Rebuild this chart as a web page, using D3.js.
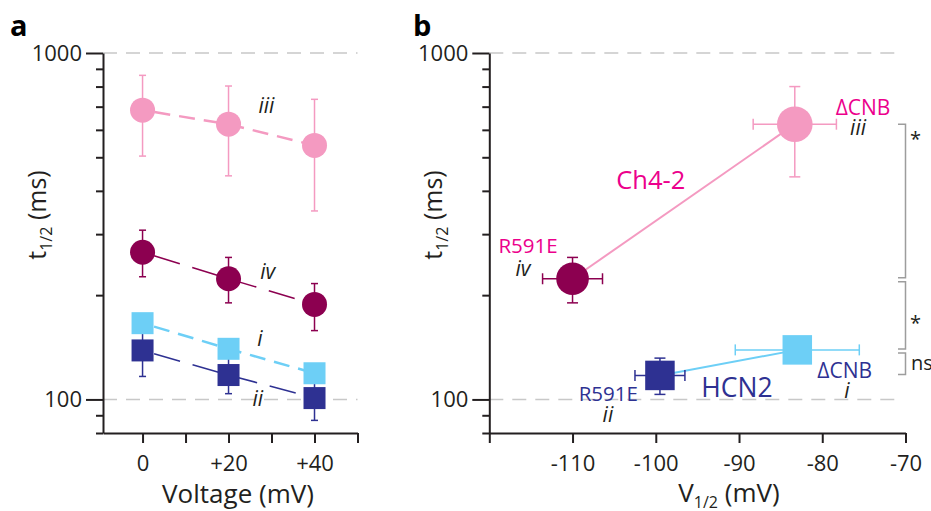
<!DOCTYPE html>
<html>
<head>
<meta charset="utf-8">
<script src="https://cdn.jsdelivr.net/npm/d3@7"></script>
<style>
  body { margin: 0; background: #fff; }
  svg { font-family: "Open Sans", sans-serif; }
</style>
</head>
<body>
<svg id="chart" width="931" height="511"></svg>
<script>
// ---- panel a: t1/2 against test voltage
const voltages = [0, 20, 40];
const iiiT  = [684, 623, 541];
const iiiLo = [504, 442, 350];
const iiiHi = [862, 803, 735];
const ivT  = [266, 223, 188];
const ivLo = [226, 190, 158];
const ivHi = [308, 257, 216];
const iT  = [166, 140, 119];
const iLo = [157, 133, 113];
const iHi = [175, 147, 125];
const iiT  = [138.5, 117.6, 100.9];
const iiLo = [116.5, 103.9, 87];
const iiHi = [158, 133, 113];

// ---- panel b: t1/2 against V1/2
const bNames = ["iv", "iii", "ii", "i"];
const bV    = [-110, -83.3, -99.5, -83.0];
const bVErr = [3.6, 5.0, 3.0, 7.45];
const bT    = [223, 623, 117.3, 139];
const bTLo  = [190, 439, 103.4, 132];
const bTHi  = [257, 800, 131.6, 146];
const bLinks = [["iv", "iii"], ["ii", "i"]];
const brackets = [["iii", "iv", "*"], ["iv", "i", "*"], ["i", "ii", "ns"]];

// ---- ticks
const tTicks = [80, 90, 100, 200, 300, 400, 500, 600, 700, 800, 900, 1000];
const tLabelled = [100, 1000];
const vTicksA = [0, 10, 20, 30, 40, 50];
const vLabelsA = { 0: "0", 20: "+20", 40: "+40" };
const vTicksB = [-120, -110, -100, -90, -80, -70];
const vLabelsB = [-110, -100, -90, -80, -70];

const ink = "#231f20";
const magenta = "#ec008c";
const col = { iii: "#f49ac1", iv: "#8c0050", i: "#6dcff6", ii: "#2e3192" };

const svg = d3.select("#chart");

const yA = d3.scaleLog().domain([80, 1000]).range([433, 53]);
const xA = d3.scaleLinear().domain([-9.2, 50]).range([103, 357.5]);
const yB = d3.scaleLog().domain([80, 1000]).range([433, 53]);
const xB = d3.scaleLinear().domain([-120, -70]).range([489.3, 905.5]);

function grid(y, x0, x1) {
  svg.append("g").selectAll("line")
    .data(tLabelled)
    .join("line")
      .attr("x1", x0).attr("x2", x1)
      .attr("y1", d => y(d)).attr("y2", d => y(d))
      .attr("stroke", "#c8c8c8")
      .attr("stroke-width", 1.5)
      .attr("stroke-dasharray", "14,9");
}

function yAxis(y, x0) {
  const ax = svg.append("g")
    .attr("transform", `translate(${x0},0)`)
    .call(d3.axisLeft(y).tickValues(tTicks).tickSize(17).tickSizeOuter(0).tickPadding(4)
      .tickFormat(d => tLabelled.includes(d) ? d : ""));
  ax.selectAll(".tick line").attr("x2", d => tLabelled.includes(d) ? -17 : -7);
  return ax;
}

function xAxis(x, ticks, fmt, y0) {
  return svg.append("g")
    .attr("transform", `translate(0,${y0})`)
    .call(d3.axisBottom(x).tickValues(ticks).tickSize(10).tickSizeOuter(0).tickPadding(12)
      .tickFormat(fmt));
}

function styleAxis(ax) {
  ax.attr("font-family", null).attr("font-size", 22);
  ax.select(".domain").attr("stroke", ink).attr("stroke-width", 2);
  ax.selectAll(".tick line").attr("stroke", ink).attr("stroke-width", 2);
  ax.selectAll(".tick text").attr("fill", ink);
}

function tLabel(x, y) {
  const t = svg.append("text")
    .attr("transform", `translate(${x},${y}) rotate(-90)`)
    .attr("text-anchor", "middle")
    .attr("font-size", 25)
    .attr("fill", ink);
  t.append("tspan").text("t");
  t.append("tspan").attr("font-size", 16).attr("dy", 6).text("1/2");
  t.append("tspan").attr("dy", -6).text(" (ms)");
}

function errBar(g, x1, y1, x2, y2, cap, color, vertical) {
  g.append("line").attr("x1", x1).attr("y1", y1).attr("x2", x2).attr("y2", y2)
    .attr("stroke", color).attr("stroke-width", 1.5);
  [[x1, y1], [x2, y2]].forEach(([cx, cy]) => {
    g.append("line")
      .attr("x1", vertical ? cx - cap : cx).attr("x2", vertical ? cx + cap : cx)
      .attr("y1", vertical ? cy : cy - cap).attr("y2", vertical ? cy : cy + cap)
      .attr("stroke", color).attr("stroke-width", 1.5);
  });
}

function marker(g, shape, cx, cy, size, color) {
  if (shape === "circle") {
    g.append("circle").attr("cx", cx).attr("cy", cy).attr("r", size).attr("fill", color);
  } else {
    g.append("rect").attr("x", cx - size / 2).attr("y", cy - size / 2)
      .attr("width", size).attr("height", size).attr("fill", color);
  }
}

// ================= panel a =================
grid(yA, 103, 357.5);

const seriesA = [
  { key: "iii", t: iiiT, lo: iiiLo, hi: iiiHi },
  { key: "iv",  t: ivT,  lo: ivLo,  hi: ivHi },
  { key: "i",   t: iT,   lo: iLo,   hi: iHi },
  { key: "ii",  t: iiT,  lo: iiLo,  hi: iiHi }
];
const styleA = {
  iii: { shape: "circle", size: 12.5, width: 2.5, dash: "16,9" },
  iv:  { shape: "circle", size: 12.5, width: 1.5, dash: "27,13" },
  i:   { shape: "square", size: 22,   width: 2.5, dash: "16,9" },
  ii:  { shape: "square", size: 22,   width: 1.5, dash: "27,13" }
};

const lineA = d3.line().x((d, i) => xA(voltages[i])).y(d => yA(d));
const gA = svg.append("g");
seriesA.forEach(s => {
  gA.append("path").attr("d", lineA(s.t))
    .attr("fill", "none").attr("stroke", col[s.key])
    .attr("stroke-width", styleA[s.key].width)
    .attr("stroke-dasharray", styleA[s.key].dash)
    .attr("stroke-dashoffset", -12);
});
seriesA.forEach(s => {
  voltages.forEach((v, i) => errBar(gA, xA(v), yA(s.lo[i]), xA(v), yA(s.hi[i]), 3.5, col[s.key], true));
});
seriesA.forEach(s => {
  voltages.forEach((v, i) => marker(gA, styleA[s.key].shape, xA(v), yA(s.t[i]), styleA[s.key].size, col[s.key]));
});

styleAxis(yAxis(yA, 103));
styleAxis(xAxis(xA, vTicksA, d => vLabelsA[d] || "", 433));
tLabel(46, 215);
svg.append("text").attr("x", 238).attr("y", 503).attr("text-anchor", "middle")
  .attr("font-size", 26).attr("fill", ink).text("Voltage (mV)");

const romanA = [["iii", 28.8, 671], ["iv", 29.1, 222], ["i", 27.3, 143], ["ii", 26.8, 96]];
svg.append("g").selectAll("text").data(romanA).join("text")
  .attr("x", d => xA(d[1])).attr("y", d => yA(d[2]))
  .attr("text-anchor", "middle").attr("font-style", "italic")
  .attr("font-size", 21).attr("fill", ink).text(d => d[0]);

// ================= panel b =================
grid(yB, 489.3, 897);

const styleB = {
  iv:  { shape: "circle", size: 16.3 },
  iii: { shape: "circle", size: 17.8 },
  ii:  { shape: "square", size: 29.5 },
  i:   { shape: "square", size: 29.5 }
};
const idx = n => bNames.indexOf(n);
const gB = svg.append("g");

bLinks.forEach(([a, b]) => {
  gB.append("line")
    .attr("x1", xB(bV[idx(a)])).attr("y1", yB(bT[idx(a)]))
    .attr("x2", xB(bV[idx(b)])).attr("y2", yB(bT[idx(b)]))
    .attr("stroke", col[b]).attr("stroke-width", 2);
});
bNames.forEach((n, i) => {
  errBar(gB, xB(bV[i]), yB(bTLo[i]), xB(bV[i]), yB(bTHi[i]), 5.5, col[n], true);
  errBar(gB, xB(bV[i] - bVErr[i]), yB(bT[i]), xB(bV[i] + bVErr[i]), yB(bT[i]), 5.5, col[n], false);
});
bNames.forEach((n, i) => marker(gB, styleB[n].shape, xB(bV[i]), yB(bT[i]), styleB[n].size, col[n]));

styleAxis(yAxis(yB, 489.3));
styleAxis(xAxis(xB, vTicksB, d => vLabelsB.includes(d) ? d : "", 433));
tLabel(442, 215);

const vl = svg.append("text").attr("x", 729).attr("y", 502).attr("text-anchor", "middle")
  .attr("font-size", 26).attr("fill", ink);
vl.append("tspan").text("V");
vl.append("tspan").attr("font-size", 16).attr("dy", 6).text("1/2");
vl.append("tspan").attr("dy", -6).text(" (mV)");

// annotations: [text, mV, ms, size, color, italic]
const notesB = [
  ["\u0394CNB", -75.1, 661, 21, magenta, false],
  ["iii", -75.7, 579, 21, ink, true],
  ["Ch4-2", -100.6, 404, 25.5, magenta, false],
  ["R591E", -115.35, 264, 20.5, magenta, false],
  ["iv", -115.95, 227, 21, ink, true],
  ["R591E", -105.7, 99.1, 20.5, col.ii, false],
  ["ii", -105.75, 86.2, 21, ink, true],
  ["HCN2", -90.25, 101.7, 26.5, col.ii, false],
  ["\u0394CNB", -77.3, 115, 21, col.ii, false],
  ["i", -77.05, 100.9, 21, ink, true]
];
svg.append("g").selectAll("text").data(notesB).join("text")
  .attr("x", d => xB(d[1])).attr("y", d => yB(d[2]))
  .attr("text-anchor", "middle")
  .attr("font-size", d => d[3])
  .attr("font-style", d => d[5] ? "italic" : null)
  .attr("fill", d => d[4])
  .text(d => d[0]);

// significance brackets
const bx = xB(-70);
brackets.forEach(([a, b, lab], k) => {
  const y1 = yB(bT[idx(a)]) + (k ? 3 : 0);
  const y2 = yB(bT[idx(b)]) - 1;
  svg.append("path")
    .attr("d", `M${bx - 7.5},${y1}H${bx}V${y2}H${bx - 7.5}`)
    .attr("fill", "none").attr("stroke", "#9d9d9d").attr("stroke-width", 1.5);
  const star = lab === "*";
  svg.append("text")
    .attr("x", star ? bx + 10 : bx + 5.5)
    .attr("y", k === 0 ? y1 + 22 : (y1 + y2) / 2 + (star ? 15 : 6))
    .attr("text-anchor", star ? "middle" : "start")
    .attr("font-size", 20).attr("fill", ink).text(lab);
});

// panel letters
svg.append("text").attr("x", 10).attr("y", 36).attr("font-size", 29)
  .attr("font-weight", "bold").attr("fill", "#000").text("a");
svg.append("text").attr("x", 413).attr("y", 36).attr("font-size", 29)
  .attr("font-weight", "bold").attr("fill", "#000").text("b");
</script>
</body>
</html>
